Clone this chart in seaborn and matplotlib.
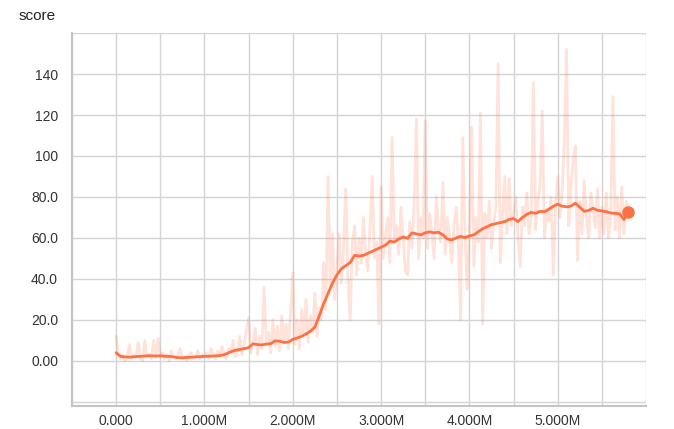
import matplotlib
matplotlib.use("Agg")
import matplotlib.pyplot as plt
import matplotlib.ticker as mtick
import numpy as np
import pandas as pd
import seaborn as sns

# raw score, one value every 25k steps (0 .. 5.8M)
raw_step = 25000
raw_score = [
    12, 2, 1, 3, 0, 2, 8, 1, 3, 2, 9, 1, 0, 10, 2, 3, 1, 10, 2, 11,
    2, 4, 1, 3, 0, 5, 2, 1, 3, 6, 1, 2, 0, 3, 4, 1, 2, 5, 1, 3,
    2, 4, 1, 6, 3, 1, 5, 2, 7, 3, 1, 6, 4, 10, 2, 5, 12, 3, 8, 15,
    21, 4, 9, 16, 3, 12, 6, 36, 8, 14, 4, 20, 7, 17, 5, 22, 10, 18, 6, 24,
    43, 8, 20, 6, 25, 12, 30, 9, 22, 14, 33, 12, 26, 20, 48, 25, 90, 35, 62, 30,
    45, 62, 38, 55, 84, 40, 20, 58, 66, 42, 60, 48, 70, 52, 44, 65, 90, 50, 58, 18,
    85, 50, 62, 70, 48, 109, 58, 66, 52, 75, 60, 44, 42, 68, 55, 78, 118, 50, 70, 60,
    117, 55, 72, 62, 50, 80, 64, 58, 87, 52, 70, 60, 48, 66, 75, 58, 20, 109, 62, 35,
    65, 114, 46, 70, 58, 121, 18, 72, 60, 78, 55, 68, 75, 145, 48, 70, 90, 62, 89, 66,
    72, 80, 60, 46, 75, 66, 82, 62, 70, 136, 64, 78, 85, 122, 60, 74, 68, 80, 42, 76,
    90, 70, 82, 107, 152, 66, 85, 98, 105, 49, 78, 62, 88, 70, 60, 82, 74, 65, 84, 60,
    75, 62, 82, 60, 70, 129, 64, 80, 60, 85, 62, 78, 72,
]

# smoothed score, one value every 50k steps
smooth_step = 50000
smooth_score = [
    4.0, 2.2, 2.0, 1.8, 2.0, 2.2, 2.3, 2.5, 2.5, 2.4,
    2.5, 2.3, 2.2, 2.0, 1.6, 1.5, 1.7, 1.8, 2.0, 2.1,
    2.2, 2.3, 2.4, 2.5, 2.8, 3.5, 4.5, 5.2, 5.6, 6.0,
    6.5, 8.3, 8.0, 7.8, 8.2, 8.4, 9.8, 9.6, 9.0, 9.2,
    10.5, 11.2, 12.0, 13.2, 14.5, 16.5, 22.0, 28.0, 33.0, 38.0,
    42.0, 45.0, 46.5, 48.0, 51.5, 51.2, 51.5, 52.5, 53.5, 54.5,
    55.5, 56.5, 58.5, 58.0, 59.5, 60.5, 59.8, 62.5, 62.0, 61.5,
    62.5, 63.0, 62.5, 62.8, 61.5, 59.5, 59.0, 60.0, 60.8, 60.2,
    61.0, 61.5, 63.0, 64.5, 65.5, 66.5, 67.0, 67.5, 68.0, 69.0,
    69.5, 68.0, 70.0, 71.5, 72.5, 72.0, 73.0, 72.8, 74.0, 75.5,
    76.5, 75.5, 75.2, 75.5, 77.0, 75.0, 73.0, 73.5, 74.5, 73.5,
    73.2, 72.8, 72.2, 72.0, 71.8, 69.0, 72.5,
]

y_tick_labels = ["", "0.00", "20.0", "40.0", "60.0", "80.0", "100", "120", "140", ""]

color = "#ff7043"

raw_df = pd.DataFrame({"step": np.arange(len(raw_score)) * raw_step, "score": raw_score})
smooth_df = pd.DataFrame({"step": np.arange(len(smooth_score)) * smooth_step, "score": smooth_score})

sns.set_style("white")
plt.rcParams["font.family"] = ["Liberation Sans", "DejaVu Sans"]

fig = plt.figure(figsize=(6.74, 4.29), dpi=100)
ax = fig.add_axes([0.1068, 0.0536, 0.8517, 0.8694])

sns.lineplot(data=raw_df, x="step", y="score", color=color, alpha=0.2, linewidth=2, ax=ax)
sns.lineplot(data=smooth_df, x="step", y="score", color=color, linewidth=2, ax=ax)
ax.plot(smooth_df["step"].iloc[-1], smooth_df["score"].iloc[-1], "o", color=color, markersize=8)


def step_label(v, pos):
    if v % 1000000 or v >= 6000000:
        return ""
    return "0.000" if v == 0 else "%.3fM" % (v / 1e6)


ax.set_xlim(-500000, 6000000)
ax.set_ylim(-22, 160)
ax.xaxis.set_major_locator(mtick.MultipleLocator(500000))
ax.xaxis.set_major_formatter(mtick.FuncFormatter(step_label))
ax.set_yticks(range(-20, 161, 20))
ax.set_yticklabels(y_tick_labels)

ax.grid(True, color="#d4d4d4", linewidth=1)
ax.tick_params(axis="both", colors="#bdbdbd", labelcolor="#333333", labelsize=10,
               width=1, direction="out")
ax.tick_params(axis="y", length=6, pad=4)
ax.tick_params(axis="x", length=4, pad=2)
for s in ["top", "right"]:
    ax.spines[s].set_visible(False)
for s in ["left", "bottom"]:
    ax.spines[s].set_color("#c4c4c4")
    ax.spines[s].set_linewidth(1.5)
ax.set_xlabel("")
ax.set_ylabel("")

fig.text(0.027, 0.962, "score", fontsize=11, color="#222222", va="center", ha="left")

fig.savefig("out.png", dpi=100)
